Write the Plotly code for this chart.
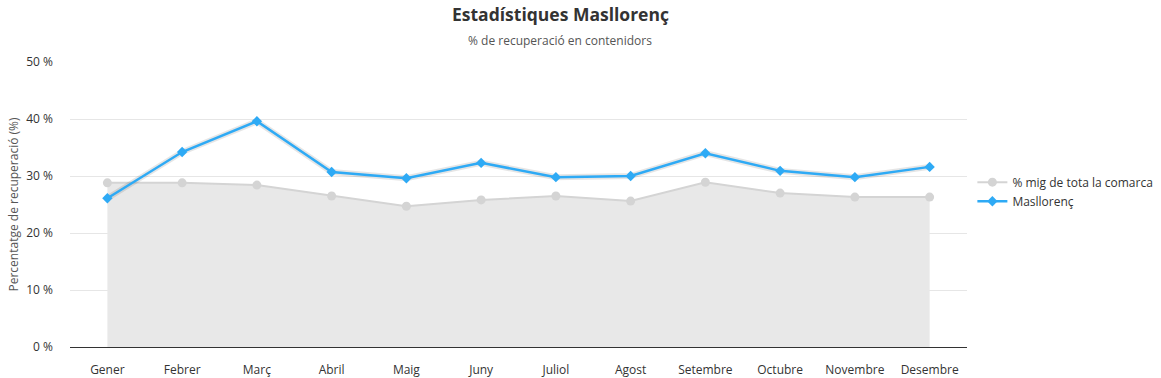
import plotly.graph_objects as go

months = ["Gener", "Febrer", "Març", "Abril", "Maig", "Juny", "Juliol",
          "Agost", "Setembre", "Octubre", "Novembre", "Desembre"]
comarca = [28.8, 28.8, 28.4, 26.5, 24.7, 25.8, 26.5, 25.6, 28.9, 27.0, 26.3, 26.3]
masllorenc = [26.1, 34.2, 39.6, 30.7, 29.6, 32.3, 29.8, 30.0, 34.0, 30.9, 29.8, 31.6]
yticks = [0, 10, 20, 30, 40, 50]
ytick_labels = ["0 %", "10 %", "20 %", "30 %", "40 %", "50 %"]

FONT = "Open Sans"
GRAY = "#d4d4d4"
BLUE = "#2eaaf5"

fig = go.Figure()
# area fill under the comarca average
fig.add_trace(go.Scatter(
    x=months, y=comarca, mode="lines", fill="tozeroy", fillcolor="#e8e8e8",
    line=dict(color=GRAY, width=0), showlegend=False, hoverinfo="skip",
))
fig.add_trace(go.Scatter(
    x=months, y=comarca, name="% mig de tota la comarca",
    mode="lines+markers",
    line=dict(color=GRAY, width=2),
    marker=dict(symbol="circle", size=9, color=GRAY),
))
# soft shadow under the blue line
fig.add_trace(go.Scatter(
    x=months, y=masllorenc, mode="lines", showlegend=False, hoverinfo="skip",
    line=dict(color="rgba(0,0,0,0.10)", width=6),
))
fig.add_trace(go.Scatter(
    x=months, y=masllorenc, name="Masllorenç",
    mode="lines+markers",
    line=dict(color=BLUE, width=2.5),
    marker=dict(symbol="diamond", size=8, color=BLUE),
))

fig.update_layout(
    width=1161, height=378,
    margin=dict(l=70, r=194, t=62, b=31, autoexpand=False),
    paper_bgcolor="white", plot_bgcolor="white",
    font=dict(family=FONT, size=12, color="#333333"),
    legend=dict(
        x=1.006, xanchor="left", y=0.545, yanchor="middle", itemwidth=30,
        font=dict(family=FONT, size=12, color="#333333"),
        bgcolor="rgba(0,0,0,0)", tracegroupgap=2,
    ),
    xaxis=dict(
        type="category", range=[-0.5, 11.5], showgrid=False,
        showline=True, linecolor="#333333", linewidth=1, automargin=False,
        ticks="", ticklabelstandoff=12, tickfont=dict(size=12, color="#333333"),
    ),
    yaxis=dict(
        range=[0, 50], tickvals=yticks, ticktext=ytick_labels,
        showgrid=True, gridcolor="#e6e6e6", gridwidth=1, zeroline=False,
        showline=False, ticks="", ticklabelstandoff=16, automargin=False,
        tickfont=dict(size=12, color="#333333"),
    ),
    annotations=[
        dict(text="<b>Estadístiques Masllorenç</b>", xref="paper", yref="paper",
             x=(560 - 70) / 897, y=1 + (62 - 14) / 285, xanchor="center", yanchor="middle",
             showarrow=False, font=dict(family=FONT, size=17.5, color="#333333")),
        dict(text="% de recuperació en contenidors", xref="paper", yref="paper",
             x=(560 - 70) / 897, y=1 + (62 - 40) / 285, xanchor="center", yanchor="middle",
             showarrow=False, font=dict(family=FONT, size=12, color="#555555")),
        dict(text="Percentatge de recuperació (%)", xref="paper", yref="paper",
             x=(13 - 70) / 897, y=0.5, xanchor="center", yanchor="middle", textangle=-90,
             showarrow=False, font=dict(family=FONT, size=12, color="#555555")),
    ],
    showlegend=True,
)

# remove the default 8px body margin so the figure sits at the page origin
fig.write_html("out.html", config={"displayModeBar": False},
               post_script="document.body.style.margin='0';")
